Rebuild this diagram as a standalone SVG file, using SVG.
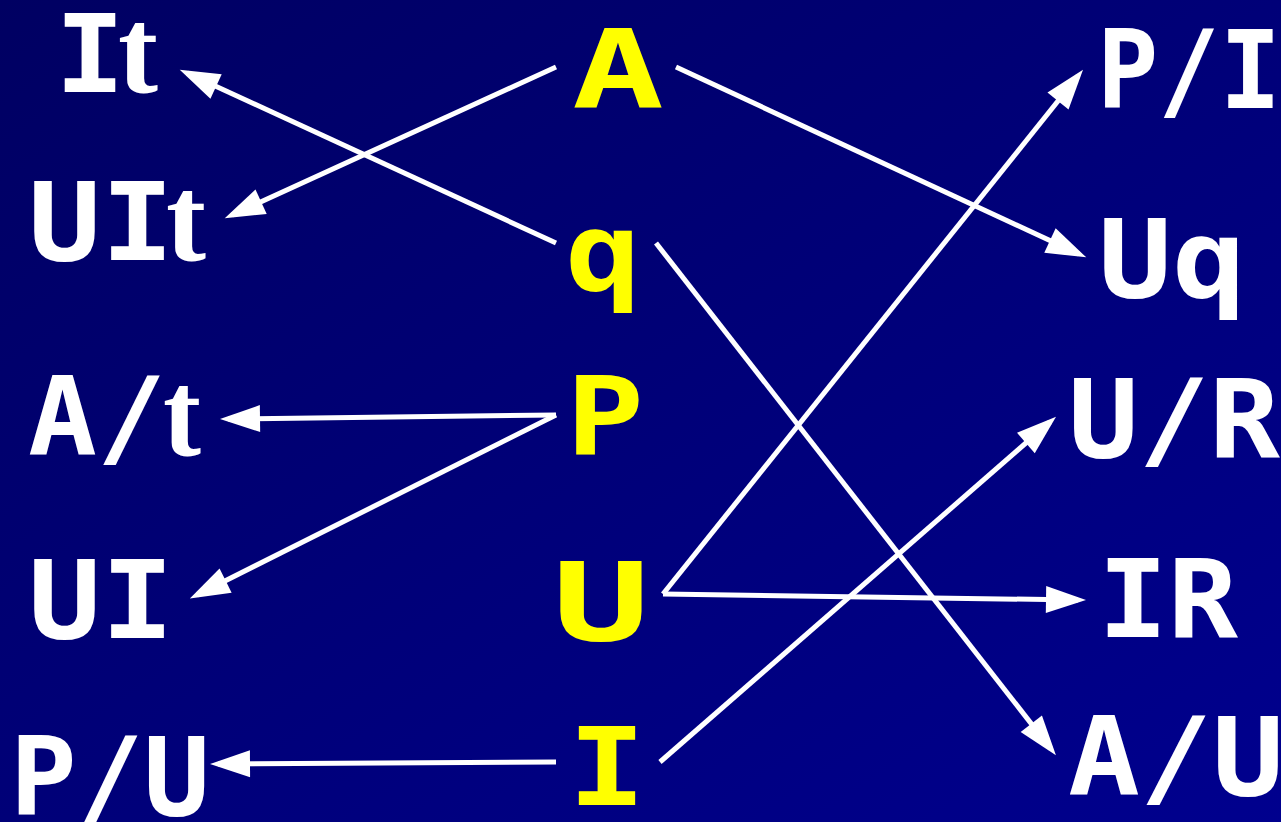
<svg xmlns="http://www.w3.org/2000/svg" width="1281" height="822" viewBox="0 0 1281 822">
<defs>
<linearGradient id="bg" x1="0" y1="0" x2="1" y2="1">
<stop offset="0" stop-color="#000062"/>
<stop offset="1" stop-color="#00008e"/>
</linearGradient>
<marker id="ah" markerUnits="strokeWidth" markerWidth="8" markerHeight="5.4" refX="6.4" refY="2.7" orient="auto" overflow="visible">
<path d="M0,0 L8,2.7 L0,5.4 z" fill="#ffffff"/>
</marker>
<style>
.lbl{font-family:"DejaVu Sans Mono","Liberation Mono",monospace;font-weight:bold;font-size:108px;fill:#ffffff}
.mid{fill:#ffff00}
.ser{font-family:"Liberation Serif","Times New Roman",serif;font-weight:bold;font-size:122px}
.arr{stroke:#ffffff;stroke-width:5;fill:none;marker-end:url(#ah)}
</style>
</defs>
<rect width="1281" height="822" fill="url(#bg)"/>
<g id="connectors">
<line class="arr" x1="556" y1="67" x2="232" y2="215"/>
<line class="arr" x1="556" y1="243" x2="187" y2="73"/>
<line class="arr" x1="676" y1="67" x2="1079" y2="254"/>
<line class="arr" x1="656" y1="243" x2="1051" y2="749"/>
<line class="arr" x1="556" y1="415" x2="228" y2="419"/>
<line class="arr" x1="556" y1="415" x2="197" y2="595"/>
<line class="arr" x1="663" y1="594" x2="1078" y2="76"/>
<line class="arr" x1="663" y1="594" x2="1078" y2="600"/>
<line class="arr" x1="660" y1="762" x2="1050" y2="422"/>
<line class="arr" x1="556" y1="762" x2="218" y2="764"/>
</g>
<g id="n-It"><text class="lbl" y="92"><tspan x="55" textLength="70" lengthAdjust="spacingAndGlyphs">I</tspan><tspan class="ser" x="118" textLength="40" lengthAdjust="spacingAndGlyphs">t</tspan></text></g>
<g id="n-UIt"><text class="lbl" y="260"><tspan x="28" textLength="146" lengthAdjust="spacingAndGlyphs">UI</tspan><tspan class="ser" x="166" textLength="40" lengthAdjust="spacingAndGlyphs">t</tspan></text></g>
<g id="n-At"><text class="lbl" y="455"><tspan x="28" textLength="138" lengthAdjust="spacingAndGlyphs">A/</tspan><tspan class="ser" x="163" textLength="38" lengthAdjust="spacingAndGlyphs">t</tspan></text></g>
<g id="n-UI"><text class="lbl" y="638" x="28" textLength="146" lengthAdjust="spacingAndGlyphs">UI</text></g>
<g id="n-PU"><text class="lbl" y="815" x="10" textLength="200" lengthAdjust="spacingAndGlyphs">P/U</text></g>
<g id="n-A"><text class="lbl mid" y="108" x="572" textLength="92" lengthAdjust="spacingAndGlyphs">A</text></g>
<g id="n-q"><text class="lbl mid" y="290" x="565" textLength="76" lengthAdjust="spacingAndGlyphs">q</text></g>
<g id="n-P"><text class="lbl mid" y="455" x="566" textLength="78" lengthAdjust="spacingAndGlyphs">P</text></g>
<g id="n-U"><text class="lbl mid" y="640" x="552" textLength="98" lengthAdjust="spacingAndGlyphs">U</text></g>
<g id="n-I"><text class="lbl mid" y="805" x="568" textLength="78" lengthAdjust="spacingAndGlyphs">I</text></g>
<g id="n-PI"><text class="lbl" y="108" x="1097" textLength="184" lengthAdjust="spacingAndGlyphs">P/I</text></g>
<g id="n-Uq"><text class="lbl" y="297" x="1098" textLength="148" lengthAdjust="spacingAndGlyphs">Uq</text></g>
<g id="n-UR"><text class="lbl" y="457" x="1068" textLength="212" lengthAdjust="spacingAndGlyphs">U/R</text></g>
<g id="n-IR"><text class="lbl" y="637" x="1098" textLength="140" lengthAdjust="spacingAndGlyphs">IR</text></g>
<g id="n-AU"><text class="lbl" y="795" x="1068" textLength="216" lengthAdjust="spacingAndGlyphs">A/U</text></g>
</svg>
